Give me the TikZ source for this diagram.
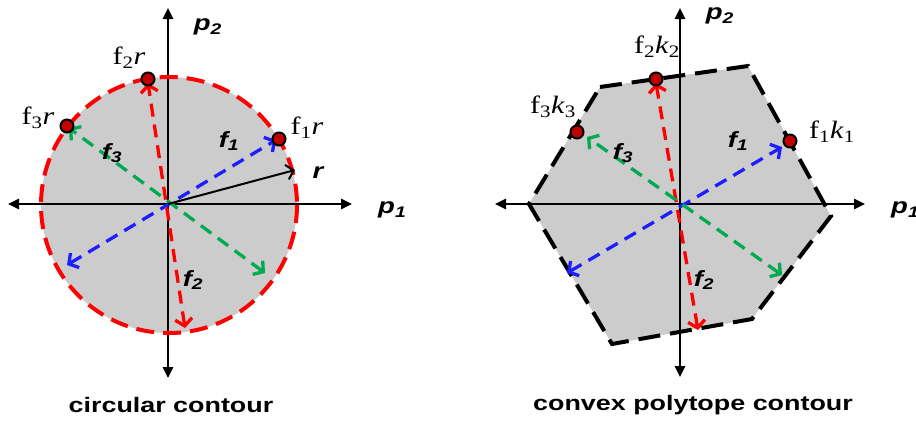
\documentclass[tikz,border=0pt]{standalone}
\usepackage{fontspec}
\setmainfont{Liberation Serif}
\setsansfont{Liberation Sans}
\usepackage{graphicx}
\usetikzlibrary{arrows.meta,calc}
\definecolor{fblue}{RGB}{30,30,255}
\definecolor{fgreen}{RGB}{0,170,80}
\definecolor{fred}{RGB}{255,0,0}
\definecolor{dotred}{RGB}{192,0,0}
\definecolor{greyfill}{RGB}{204,204,204}
\newcommand{\wide}[2]{\scalebox{#1}[1]{#2}}
\newcommand{\fv}[1]{\wide{1.25}{\fontsize{22}{22}\sffamily\bfseries\itshape #1}}
\newcommand{\pt}[1]{\wide{1.2}{\fontsize{25}{25}\selectfont #1}}
\newcommand{\capt}[1]{\wide{1.28}{\fontsize{21}{21}\sffamily\bfseries #1}}

\begin{document}
\begin{tikzpicture}[x=1pt,y=-1pt,
  axis/.style={line width=2.5pt,{Triangle[length=11pt,width=10pt]}-{Triangle[length=11pt,width=10pt]}},
  fdir/.style={line width=3.3pt,dash pattern=on 13pt off 8pt,
    {Straight Barb[length=7pt,width=17pt]}-{Straight Barb[length=7pt,width=17pt]}},
  rim/.style={line width=4pt,dash pattern=on 18pt off 9pt},
  touch/.style={circle,draw=black,line width=2pt,fill=dotred,inner sep=0pt,minimum size=13pt},
  lbl/.style={inner sep=0pt}]
  \useasboundingbox (0,0) rectangle (916,421);

  % ---------------- circular contour ----------------
  \coordinate (o1) at (168,204);
  \coordinate (c1) at (169,205);
  \fill[greyfill] (c1) circle (128);
  \coordinate (x1a) at (8,204);   \coordinate (x1b) at (352,204);
  \coordinate (y1a) at (168,8);   \coordinate (y1b) at (168,378);
  \draw[axis] (x1a) -- (x1b);
  \draw[axis] (y1a) -- (y1b);
  \draw[rim,fred] (c1) circle (128);
  % directions
  \coordinate (a1) at (276,140); \coordinate (b1) at (67,265);
  \coordinate (a2) at (148,83);  \coordinate (b2) at (185,328);
  \coordinate (a3) at (69,128);  \coordinate (b3) at (265,273);
  \draw[fdir,fblue] (b1) -- (a1);
  \draw[fdir,fred] (b2) -- (a2);
  \draw[fdir,fgreen] (b3) -- (a3);
  \coordinate (rr) at (295,170);
  \draw[line width=2pt,-{Straight Barb[length=7pt,width=15pt]}] (o1) -- (rr);
  % support points
  \node[touch] (s1) at (279,139) {};
  \node[touch] (s2) at (148,79) {};
  \node[touch] (s3) at (67,126) {};
  \node[lbl] (l1) at (307,128) {\pt{f\textsubscript{1}\textit{r}}};
  \node[lbl] (l2) at (129,58) {\pt{f\textsubscript{2}\textit{r}}};
  \node[lbl] (l3) at (38,118) {\pt{f\textsubscript{3}\textit{r}}};
  \node[lbl] (v1) at (229,141) {\fv{f\textsubscript{1}}};
  \node[lbl] (v2) at (193,280) {\fv{f\textsubscript{2}}};
  \node[lbl] (v3) at (112,153) {\fv{f\textsubscript{3}}};
  \node[lbl] (rl) at (318,173) {\fv{r}};
  \node[lbl] (p2l) at (208,27) {\fv{p\textsubscript{2}}};
  \node[lbl,anchor=west] (p1l) at (378,210) {\fv{p\textsubscript{1}}};
  \node[lbl] (cap1) at (171,405) {\capt{circular contour}};

  % ---------------- convex polytope contour ----------------
  \coordinate (o2) at (680,204);
  \coordinate (h1) at (600,87);
  \coordinate (h2) at (748,66);
  \coordinate (h3) at (831,216);
  \coordinate (h4) at (752,319);
  \coordinate (h5) at (612,344);
  \coordinate (h6) at (529,204);
  \fill[greyfill] (h1) -- (h2) -- (h3) -- (h4) -- (h5) -- (h6) -- cycle;
  \coordinate (x2a) at (495,204); \coordinate (x2b) at (865,204);
  \coordinate (y2a) at (680,8);   \coordinate (y2b) at (680,377);
  \draw[axis] (x2a) -- (x2b);
  \draw[axis] (y2a) -- (y2b);
  \draw[black,line width=4pt,dash pattern=on 22pt off 10pt,line join=miter]
    (h1) -- (h2) -- (h3) -- (h4) -- (h5) -- (h6) -- cycle;
  % directions
  \coordinate (d1) at (782,147); \coordinate (e1) at (567,273);
  \coordinate (d2) at (656,83);  \coordinate (e2) at (698,330);
  \coordinate (d3) at (587,137); \coordinate (e3) at (782,275);
  \draw[fdir,fblue] (e1) -- (d1);
  \draw[fdir,fred] (e2) -- (d2);
  \draw[fdir,fgreen] (e3) -- (d3);
  % support points
  \node[touch] (t1) at (790,141) {};
  \node[touch] (t2) at (656,79) {};
  \node[touch] (t3) at (577,132) {};
  \node[lbl] (k1) at (832,132) {\pt{f\textsubscript{1}\textit{k}\textsubscript{1}}};
  \node[lbl] (k2) at (657,47) {\pt{f\textsubscript{2}\textit{k}\textsubscript{2}}};
  \node[lbl] (k3) at (553,107) {\pt{f\textsubscript{3}\textit{k}\textsubscript{3}}};
  \node[lbl] (w1) at (738,141) {\fv{f\textsubscript{1}}};
  \node[lbl] (w2) at (704,280) {\fv{f\textsubscript{2}}};
  \node[lbl] (w3) at (623,153) {\fv{f\textsubscript{3}}};
  \node[lbl] (q2l) at (720,16) {\fv{p\textsubscript{2}}};
  \node[lbl,anchor=west] (q1l) at (891,210) {\fv{p\textsubscript{1}}};
  \node[lbl] (cap2) at (693,405) {\capt{convex polytope contour}};
\end{tikzpicture}
\end{document}
